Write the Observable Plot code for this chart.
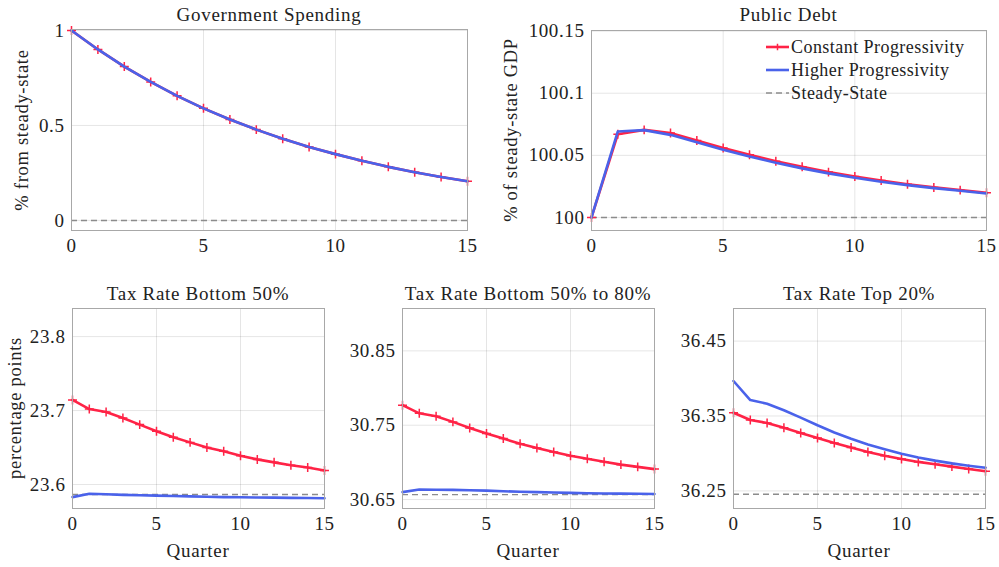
<!DOCTYPE html>
<html><head><meta charset="utf-8">
<script src="https://cdn.jsdelivr.net/npm/d3@7"></script>
<script src="https://cdn.jsdelivr.net/npm/@observablehq/plot@0.6"></script>
<style>
body{margin:0;background:#fff;width:999px;height:567px;overflow:hidden;font-family:"Liberation Serif",serif;color:#222}
#root{position:relative;width:999px;height:567px}
.abs{position:absolute;white-space:nowrap;line-height:1}
.title{font-size:19px;letter-spacing:0.7px;transform:translate(-50%,-50%)}
.ylab{font-size:18.5px;letter-spacing:0.7px;transform:translate(-50%,-50%) rotate(-90deg)}
.leg{font-size:18px;letter-spacing:0.45px;display:flex;align-items:center}
svg.panel{position:absolute;overflow:visible}
svg.panel text{letter-spacing:0.6px}
</style></head><body><div id="root"></div>
<script>
const quarters = [0,1,2,3,4,5,6,7,8,9,10,11,12,13,14,15];
const xTickLabels = ["0","5","10","15"];

const govConstant = [1,0.9,0.81,0.729,0.656,0.59,0.531,0.478,0.43,0.387,0.349,0.314,0.282,0.254,0.229,0.206];
const govHigher   = [1,0.9,0.81,0.729,0.656,0.59,0.531,0.478,0.43,0.387,0.349,0.314,0.282,0.254,0.229,0.206];
const govSteady = 0;
const govTicks = ["0","0.5","1"];

const debtConstant = [100,100.067,100.0705,100.068,100.062,100.056,100.0505,100.0453,100.0408,100.0365,100.033,100.0298,100.0268,100.0242,100.022,100.0199];
const debtHigher   = [100,100.0692,100.0703,100.0665,100.0605,100.0545,100.049,100.044,100.0395,100.0355,100.032,100.0288,100.026,100.0236,100.0215,100.0193];
const debtSteady = 100;
const debtTicks = ["100","100.05","100.1","100.15"];

const b50Constant = [23.7144,23.702,23.698,23.690,23.681,23.672,23.664,23.657,23.650,23.645,23.639,23.634,23.630,23.626,23.623,23.619];
const b50Higher   = [23.583,23.5875,23.5868,23.586,23.5855,23.585,23.5845,23.584,23.5835,23.583,23.5828,23.5825,23.5823,23.582,23.5818,23.5815];
const b50Steady = 23.5865;
const b50Ticks = ["23.6","23.7","23.8"];

const b5080Constant = [30.777,30.766,30.762,30.7545,30.7464,30.739,30.732,30.725,30.7195,30.714,30.709,30.705,30.701,30.697,30.694,30.691];
const b5080Higher   = [30.660,30.6635,30.6632,30.663,30.6625,30.662,30.6612,30.6605,30.66,30.6595,30.659,30.6586,30.6582,30.658,30.6578,30.6576];
const b5080Steady = 30.6567;
const b5080Ticks = ["30.65","30.75","30.85"];

const top20Constant = [36.3544,36.3447,36.3407,36.3344,36.3273,36.3207,36.314,36.3078,36.302,36.297,36.2927,36.2887,36.2856,36.2824,36.2793,36.2762];
const top20Higher   = [36.3967,36.3713,36.3664,36.3576,36.3478,36.3376,36.328,36.3196,36.312,36.3056,36.2996,36.2947,36.2904,36.2867,36.2836,36.281];
const top20Steady = 36.2456;
const top20Ticks = ["36.25","36.35","36.45"];

const seriesNames = ["Constant Progressivity","Higher Progressivity","Steady-State"];
const RED = "#ff2346", BLUE = "#4a62ea", GRAY = "#8c8c8c";

const panels = [
  {title:"Government Spending", ylabel:"% from steady-state", xlabel:null, frame:[71,29,396,201], yDomain:[-0.053,1.005], ticks:govTicks, c:govConstant, h:govHigher, s:govSteady, ylabX:22},
  {title:"Public Debt", ylabel:"% of steady-state GDP", xlabel:null, frame:[591,30,395,200], yDomain:[99.9895,100.1505], ticks:debtTicks, c:debtConstant, h:debtHigher, s:debtSteady, ylabX:511},
  {title:"Tax Rate Bottom 50%", ylabel:"percentage points", xlabel:"Quarter", frame:[72,308,252,200], yDomain:[23.5676,23.838], ticks:b50Ticks, c:b50Constant, h:b50Higher, s:b50Steady, ylabX:15},
  {title:"Tax Rate Bottom 50% to 80%", ylabel:null, xlabel:"Quarter", frame:[402,308,252,200], yDomain:[30.638,30.907], ticks:b5080Ticks, c:b5080Constant, h:b5080Higher, s:b5080Steady},
  {title:"Tax Rate Top 20%", ylabel:null, xlabel:"Quarter", frame:[733,308,252,200], yDomain:[36.2265,36.4935], ticks:top20Ticks, c:top20Constant, h:top20Higher, s:top20Steady}
];

const root = document.getElementById("root");
function addDiv(cls, text, x, y){
  const d = document.createElement("div");
  d.className = "abs " + cls; d.textContent = text;
  d.style.left = x + "px"; d.style.top = y + "px";
  root.appendChild(d); return d;
}

const ML = 70, MR = 15, MT = 10, MB = 40;
for (const p of panels) {
  const [l, t, w, h] = p.frame;
  const yTicks = p.ticks.map(Number);
  const xTicks = xTickLabels.map(Number);
  const dc = quarters.map((q,i) => ({q, v:p.c[i]}));
  const dh = quarters.map((q,i) => ({q, v:p.h[i]}));
  const svg = Plot.plot({
    width: w + ML + MR, height: h + MT + MB,
    marginLeft: ML, marginRight: MR, marginTop: MT, marginBottom: MB,
    style: {fontFamily: "'Liberation Serif', serif", fontSize: "19px", color: "#222", background: "transparent", overflow: "visible"},
    x: {domain: [0, 15]},
    y: {domain: p.yDomain},
    marks: [
      Plot.gridX(xTicks, {stroke: "#000", strokeOpacity: 0.1}),
      Plot.gridY(yTicks, {stroke: "#000", strokeOpacity: 0.1}),
      Plot.axisX({ticks: xTicks, tickSize: 0, tickPadding: 8, tickFormat: (d) => xTickLabels[xTicks.indexOf(d)], label: null}),
      Plot.axisY({ticks: yTicks, tickSize: 0, tickPadding: 7, tickFormat: (d) => p.ticks[yTicks.indexOf(d)], label: null}),
      Plot.ruleY([p.s], {stroke: GRAY, strokeWidth: 1.4, strokeDasharray: "6,4"}),
      Plot.lineY(dc, {x: "q", y: "v", stroke: RED, strokeWidth: 2.6}),
      Plot.dot(dc, {x: "q", y: "v", symbol: "plus", r: 3, stroke: RED, strokeWidth: 1.5}),
      Plot.lineY(dh, {x: "q", y: "v", stroke: BLUE, strokeWidth: 2.6}),
      Plot.frame({stroke: "#a8a8a8", strokeWidth: 1})
    ]
  });
  svg.classList.add("panel");
  svg.style.left = (l - ML) + "px";
  svg.style.top = (t - MT) + "px";
  root.appendChild(svg);
  addDiv("title", p.title, l + w / 2, t < 100 ? 14 : 293);
  if (p.ylabel) addDiv("ylab", p.ylabel, p.ylabX, t + h / 2);
  if (p.xlabel) addDiv("title", p.xlabel, l + w / 2, 550);
}

// Legend inside Public Debt panel
const legY = [47, 70, 93];
seriesNames.forEach((name, i) => {
  const d = document.createElement("div");
  d.className = "abs leg";
  d.style.left = "765px"; d.style.top = (legY[i] - 9) + "px"; d.style.height = "18px";
  const ns = "http://www.w3.org/2000/svg";
  const s = document.createElementNS(ns, "svg");
  s.setAttribute("width", "25"); s.setAttribute("height", "18");
  const ln = document.createElementNS(ns, "line");
  ln.setAttribute("x1", "1"); ln.setAttribute("x2", "24"); ln.setAttribute("y1", "9"); ln.setAttribute("y2", "9");
  if (i === 0) { ln.setAttribute("stroke", RED); ln.setAttribute("stroke-width", "2.6"); }
  if (i === 1) { ln.setAttribute("stroke", BLUE); ln.setAttribute("stroke-width", "2.6"); }
  if (i === 2) { ln.setAttribute("stroke", GRAY); ln.setAttribute("stroke-width", "1.4"); ln.setAttribute("stroke-dasharray", "6,4"); }
  s.appendChild(ln);
  if (i === 0) {
    const pl = document.createElementNS(ns, "path");
    pl.setAttribute("d", "M12.5,5.8V12.2M9.3,9H15.7"); pl.setAttribute("stroke", RED); pl.setAttribute("stroke-width", "1.5");
    s.appendChild(pl);
  }
  d.appendChild(s);
  const tx = document.createElement("span"); tx.textContent = name; tx.style.marginLeft = "1px";
  d.appendChild(tx);
  root.appendChild(d);
});
</script>
</body></html>
